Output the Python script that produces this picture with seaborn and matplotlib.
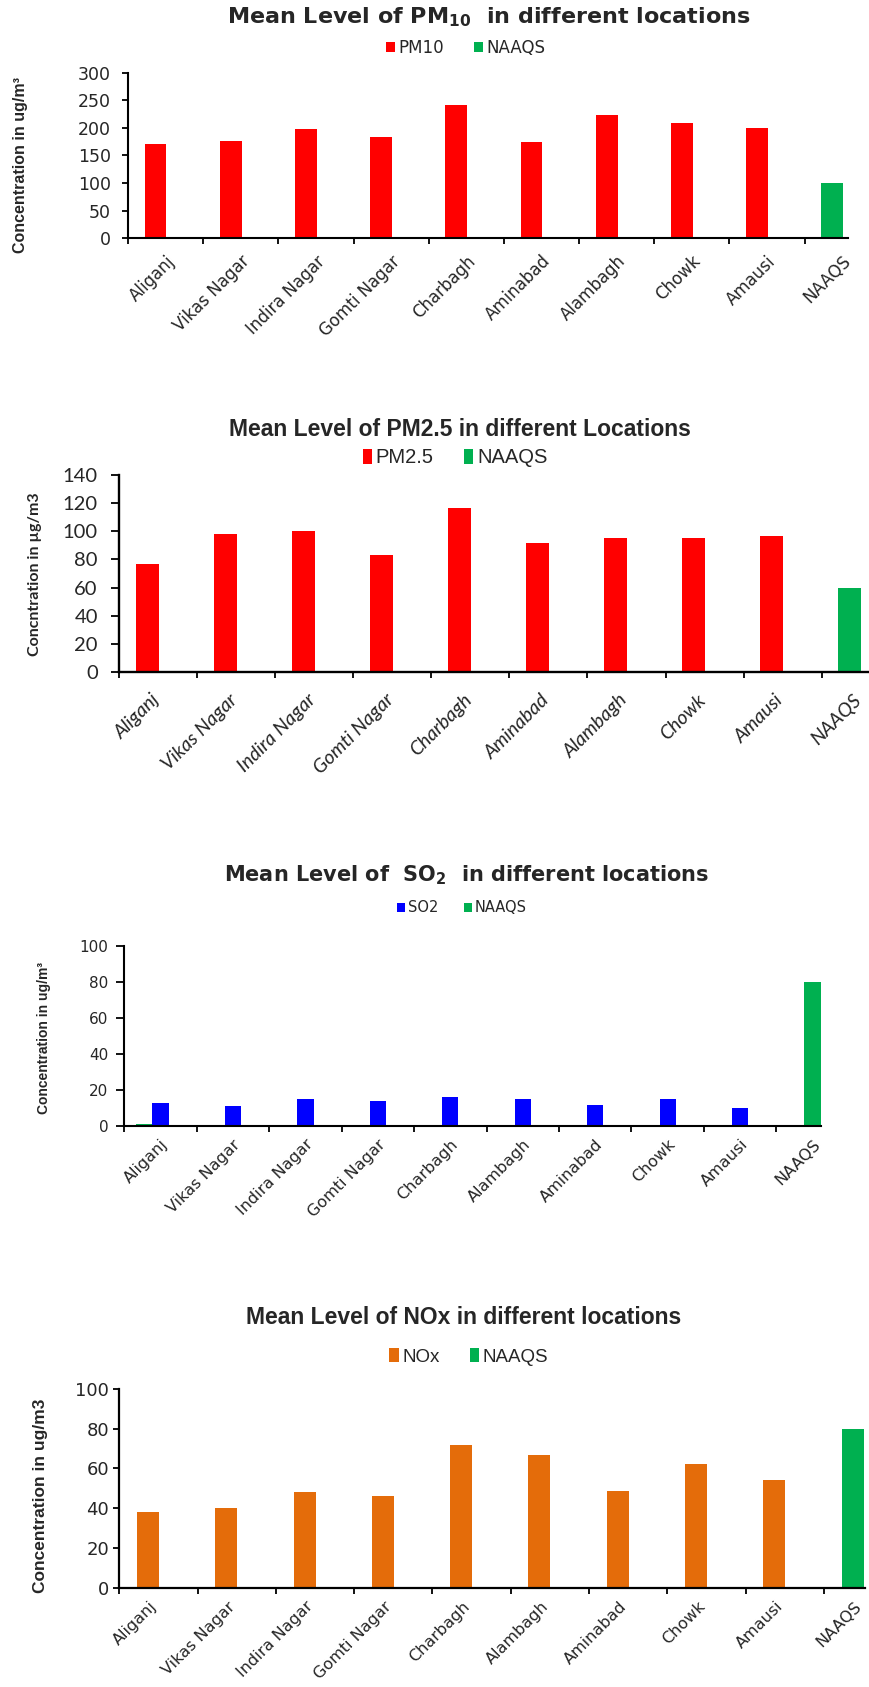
import matplotlib

matplotlib.use("Agg")
import matplotlib.pyplot as plt
import pandas as pd
import seaborn as sns

# Four stacked bar charts of mean pollutant levels at Lucknow sites vs NAAQS

W, H = 869, 1687

pm_sites = ["Aliganj", "Vikas Nagar", "Indira Nagar", "Gomti Nagar", "Charbagh",
            "Aminabad", "Alambagh", "Chowk", "Amausi", "NAAQS"]
gas_sites = ["Aliganj", "Vikas Nagar", "Indira Nagar", "Gomti Nagar", "Charbagh",
             "Alambagh", "Aminabad", "Chowk", "Amausi", "NAAQS"]

pm10 = [170, 177, 198, 183, 241, 174, 224, 209, 199]
pm10_naaqs = 100
pm25 = [76.5, 98.5, 100.5, 83.5, 116.5, 92, 95.5, 95.5, 96.5]
pm25_naaqs = 60
so2 = [12.7, 10.7, 15.0, 13.6, 15.7, 15.0, 11.4, 15.0, 9.9]
so2_naaqs = 80
so2_naaqs_aliganj = 0.7  # thin green sliver next to the Aliganj bar
nox = [38.1, 40.3, 48.2, 46.3, 71.6, 66.8, 48.5, 62.4, 54.2]
nox_naaqs = 80

RED = "#FF0000"
GREEN = "#00B050"
BLUE = "#0000FF"
ORANGE = "#E46C0A"

WIDE = ["DejaVu Sans"]
ARIAL = ["Liberation Sans", "DejaVu Sans"]
SOFT = ["Lato", "DejaVu Sans"]

sns.set_style("ticks")
plt.rcParams["font.family"] = ["DejaVu Sans"]
plt.rcParams["mathtext.fontset"] = "dejavusans"

fig = plt.figure(figsize=(W / 100, H / 100), dpi=100)


def fpos(x, y):
    return x / W, 1 - y / H


def make_axes(left, top, right, bottom):
    return fig.add_axes([left / W, 1 - bottom / H, (right - left) / W, (bottom - top) / H])


def draw_bars(ax, sites, values, limit, name, color, width):
    df = pd.DataFrame({
        "site": sites,
        "value": values + [limit],
        "series": [name] * len(values) + ["NAAQS"],
    })
    sns.barplot(data=df, x="site", y="value", hue="series", order=sites,
                hue_order=[name, "NAAQS"], palette={name: color, "NAAQS": GREEN},
                dodge=False, width=width, saturation=1, linewidth=0, ax=ax)
    return ax.get_legend_handles_labels()


def style_axes(ax, sites, offset, xright, yticks, tick_font, label_font,
               ypad, xpad, ytick_len, lw, label_shift=0.0):
    n = len(sites)
    ax.set_xlim(-offset, xright)
    ax.set_ylim(0, yticks[-1])
    ax.set_yticks(yticks, labels=[str(v) for v in yticks], **tick_font)
    ax.set_xticks([k - offset + 0.5 - label_shift for k in range(n)])
    ax.set_xticklabels(sites, rotation=45, ha="right", rotation_mode="anchor", **label_font)
    ax.set_xticks([k - offset for k in range(n)], minor=True)
    ax.tick_params(axis="x", which="major", length=0, pad=xpad)
    ax.tick_params(axis="x", which="minor", length=4.5, width=1.3, color="black", direction="out")
    ax.tick_params(axis="y", length=ytick_len, width=1.3, color="black", pad=ypad)
    ax.set_xlabel("")
    ax.set_ylabel("")
    sns.despine(ax=ax)
    for side in ("left", "bottom"):
        ax.spines[side].set_linewidth(lw)
        ax.spines[side].set_color("black")


def add_legend(ax, handles, labels, cx, cy, prop, hl, hh, cs):
    ax.legend(handles, labels, loc="center", bbox_to_anchor=fpos(cx, cy),
              bbox_transform=fig.transFigure, ncol=2, frameon=False, prop=prop,
              handlelength=hl, handleheight=hh, handletextpad=0.2,
              columnspacing=cs, borderaxespad=0, borderpad=0)


# ---- PM10 ----
ax1 = make_axes(128, 72.7, 848, 238.3)
h, l = draw_bars(ax1, pm_sites, pm10, pm10_naaqs, "PM10", RED, 0.29)
style_axes(ax1, pm_sites, 0.367, 9.21, [0, 50, 100, 150, 200, 250, 300],
           dict(family=WIDE, size=12.5), dict(family=WIDE, size=12),
           ypad=8, xpad=10, ytick_len=4.5, lw=1.5)
add_legend(ax1, h, l, 466, 48, dict(family=WIDE, size=12), 0.55, 0.55, 1.8)
fig.text(*fpos(489, 17), "Mean Level of PM$_\\mathbf{10}$  in different locations",
         ha="center", va="center", family=WIDE, weight="bold", size=16)
fig.text(*fpos(20.5, 165), "Concentration in ug/m³", rotation=90, ha="center",
         va="center", family=ARIAL, weight="bold", size=11.5)

# ---- PM2.5 ----
ax2 = make_axes(119.3, 475.3, 869, 671.7)
h, l = draw_bars(ax2, pm_sites, pm25, pm25_naaqs, "PM2.5", RED, 0.295)
style_axes(ax2, pm_sites, 0.358, 9.25, [0, 20, 40, 60, 80, 100, 120, 140],
           dict(family=SOFT, size=14.5), dict(family=SOFT, size=14, style="italic"),
           ypad=10, xpad=14, ytick_len=5.5, lw=1.7, label_shift=0.1)
add_legend(ax2, h, l, 455, 458, dict(family=ARIAL, size=14.5), 0.45, 0.8, 1.5)
fig.text(*fpos(460, 430), "Mean Level of PM2.5 in different Locations",
         ha="center", va="center", family=ARIAL, weight="bold", size=16.5)
fig.text(*fpos(35, 574), "Concntration in µg/m3", rotation=90, ha="center",
         va="center", family=SOFT, weight="bold", size=11.5)

# ---- SO2 ----
so2_width = 0.225
ax3 = make_axes(124.3, 946, 820.7, 1125.7)
h, l = draw_bars(ax3, gas_sites, so2, so2_naaqs, "SO2", BLUE, so2_width)
sns.barplot(x=[gas_sites.index("Aliganj") - so2_width], y=[so2_naaqs_aliganj],
            native_scale=True, width=so2_width, color=GREEN, saturation=1,
            linewidth=0, ax=ax3)
style_axes(ax3, gas_sites, 0.5, 9.112, [0, 20, 40, 60, 80, 100],
           dict(family=WIDE, size=11), dict(family=WIDE, size=11.5),
           ypad=6, xpad=8, ytick_len=5.5, lw=1.5)
add_legend(ax3, h, l, 462, 908, dict(family=WIDE, size=10.5), 0.5, 0.6, 1.8)
fig.text(*fpos(467, 875), "Mean Level of  SO$_\\mathbf{2}$  in different locations",
         ha="center", va="center", family=WIDE, weight="bold", size=15)
fig.text(*fpos(44.5, 1038), "Concentration in ug/m³", rotation=90, ha="center",
         va="center", family=ARIAL, weight="bold", size=10)

# ---- NOx ----
ax4 = make_axes(119.3, 1389, 865, 1587.7)
h, l = draw_bars(ax4, gas_sites, nox, nox_naaqs, "NOx", ORANGE, 0.28)
style_axes(ax4, gas_sites, 0.366, 9.158, [0, 20, 40, 60, 80, 100],
           dict(family=WIDE, size=13), dict(family=WIDE, size=11.5),
           ypad=3.5, xpad=8, ytick_len=4, lw=1.6, label_shift=0.12)
add_legend(ax4, h, l, 469, 1357, dict(family=ARIAL, size=13.5), 0.5, 0.7, 1.6)
fig.text(*fpos(464, 1317), "Mean Level of NOx in different locations",
         ha="center", va="center", family=ARIAL, weight="bold", size=16.5)
fig.text(*fpos(40.8, 1496), "Concentration in ug/m3", rotation=90, ha="center",
         va="center", family=ARIAL, weight="bold", size=12.5)

fig.savefig("out.png", dpi=100, facecolor="white")
